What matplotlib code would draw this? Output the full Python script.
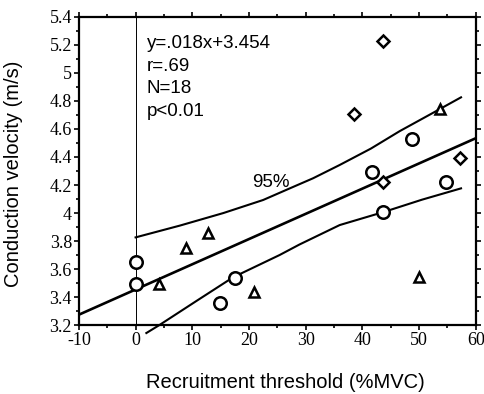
import matplotlib
matplotlib.use("Agg")
import matplotlib.pyplot as plt
from matplotlib.ticker import MultipleLocator, FormatStrFormatter

plt.rcParams['axes.unicode_minus'] = False

# data
circle_x = [0, 0, 14.8, 17.5, 41.7, 48.7, 54.8, 43.7]
circle_y = [3.65, 3.49, 3.36, 3.535, 4.29, 4.53, 4.22, 4.005]
diamond_x = [43.6, 38.6, 43.6, 57.3]
diamond_y = [5.23, 4.71, 4.22, 4.395]
triangle_x = [53.7, 49.9, 20.8, 4.1, 8.9, 12.8]
triangle_y = [4.745, 3.54, 3.435, 3.49, 3.75, 3.855]

fit_x = [-10, 60]
fit_y = [3.274, 4.534]

upper_x = [0, 7.8, 15.5, 22.5, 27.2, 31.3, 36.0, 41.5, 46.6, 52.0, 57.4]
upper_y = [3.826, 3.91, 4.0, 4.093, 4.176, 4.248, 4.343, 4.46, 4.585, 4.705, 4.826]
lower_x = [1.9, 4.2, 11.0, 17.2, 25.4, 28.9, 36.0, 43.9, 50.5, 57.4]
lower_y = [3.143, 3.2, 3.379, 3.541, 3.70, 3.775, 3.914, 4.009, 4.095, 4.176]

stats = ["y=.018x+3.454", "r=.69", "N=18", "p<0.01"]

fig = plt.figure(figsize=(4.84, 3.94), dpi=100)
ax = fig.add_axes([0.163, 0.175, 0.82, 0.782])

ax.axvline(0, color='black', lw=0.7)
ax.plot(fit_x, fit_y, color='black', lw=1.9)
ax.plot(upper_x, upper_y, color='black', lw=1.5)
ax.plot(lower_x, lower_y, color='black', lw=1.5, clip_on=False)

mk = dict(linestyle='none', mfc='white', mec='black', mew=1.8, clip_on=False, zorder=3)
ax.plot(circle_x, circle_y, marker='o', ms=9, **mk)
ax.plot(diamond_x, diamond_y, marker='D', ms=6.3, **mk)
ax.plot(triangle_x, triangle_y, marker='^', ms=7.8, **mk)

ax.text(2.0, 5.27, "\n".join(stats), fontsize=13.5, family='Liberation Sans',
        va='top', ha='left', linespacing=1.42)
ax.text(20.6, 4.215, "95%", fontsize=13.5, family='Liberation Sans', va='center')

ax.set_xlim(-10, 60)
ax.set_ylim(3.2, 5.4)
ax.xaxis.set_major_locator(MultipleLocator(10))
ax.xaxis.set_minor_locator(MultipleLocator(5))
ax.yaxis.set_major_locator(MultipleLocator(0.2))
ax.yaxis.set_minor_locator(MultipleLocator(0.1))
ax.yaxis.set_major_formatter(FormatStrFormatter('%g'))
ax.xaxis.set_major_formatter(FormatStrFormatter('%g'))

ax.tick_params(which='both', direction='out', top=True, right=True, width=1.2)
ax.tick_params(which='major', length=3.5, labelsize=13, pad=1.5)
ax.tick_params(which='minor', length=2)
for lab in ax.get_xticklabels() + ax.get_yticklabels():
    lab.set_family('Liberation Serif')
for s in ax.spines.values():
    s.set_linewidth(1.6)

ax.set_xlabel("Recruitment threshold (%MVC)", fontsize=14.5, family='Liberation Sans')
ax.xaxis.set_label_coords(0.52, -0.155)
ax.set_ylabel("Conduction velocity (m/s)", fontsize=14.5, family='Liberation Sans')
ax.yaxis.set_label_coords(-0.14, 0.49)

fig.savefig("out.png", dpi=100)
